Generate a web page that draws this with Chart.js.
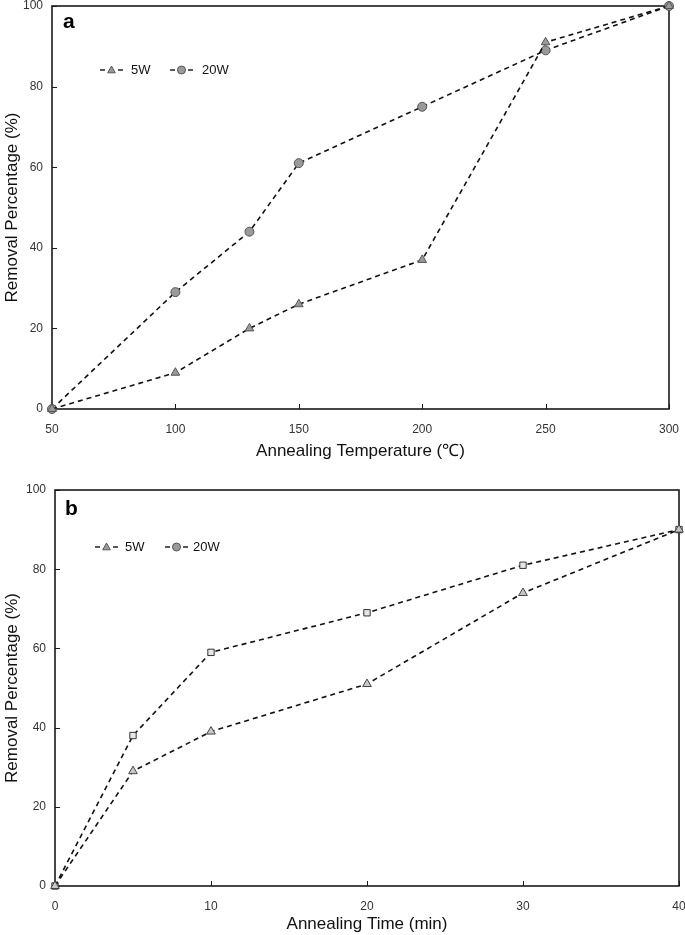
<!DOCTYPE html>
<html>
<head>
<meta charset="utf-8">
<script src="https://cdn.jsdelivr.net/npm/chart.js@4.4.1/dist/chart.umd.min.js"></script>
<style>
html,body{margin:0;padding:0;background:#fff;}
.wrap{position:absolute;left:0;width:685px;height:465px;}
#wa{top:0;}
#wb{top:470px;}
</style>
</head>
<body>
<div class="wrap" id="wa"><canvas id="ca" width="685" height="465"></canvas></div>
<div class="wrap" id="wb"><canvas id="cb" width="685" height="465"></canvas></div>
<script>
// ---- Data: panel a (annealing temperature) ----
const tempX = [50, 100, 130, 150, 200, 250, 300];
const tempY5W = [0, 9, 20, 26, 37, 91, 100];
const tempY20W = [0, 29, 44, 61, 75, 89, 100];
const tempTicks = [50, 100, 150, 200, 250, 300];

// ---- Data: panel b (annealing time) ----
const timeX = [0, 5, 10, 20, 30, 40];
const timeY5W = [0, 29, 39, 51, 74, 90];
const timeY20W = [0, 38, 59, 69, 81, 90];
const timeTicks = [0, 10, 20, 30, 40];

const yTicks = [0, 20, 40, 60, 80, 100];
const seriesLabels = ['5W', '20W'];

function pts(xs, ys) { return xs.map((x, i) => ({x: x, y: ys[i]})); }

function drawMarker(ctx, style, x, y, r, fill, stroke) {
  ctx.save();
  ctx.fillStyle = fill; ctx.strokeStyle = stroke; ctx.lineWidth = 1; ctx.setLineDash([]);
  ctx.beginPath();
  if (style === 'triangle') {
    ctx.moveTo(x, y - r); ctx.lineTo(x + r * 0.95, y + r * 0.7); ctx.lineTo(x - r * 0.95, y + r * 0.7); ctx.closePath();
  } else if (style === 'rect') {
    ctx.rect(x - r * 0.8, y - r * 0.8, r * 1.6, r * 1.6);
  } else {
    ctx.arc(x, y, r, 0, Math.PI * 2);
  }
  ctx.fill(); ctx.stroke();
  ctx.restore();
}

function zeroPad(s) { s.paddingLeft = 0; s.paddingRight = 0; s.paddingTop = 0; s.paddingBottom = 0; }

function makeChart(id, o) {
  const framePlugin = {
    id: 'frame' + id,
    beforeDatasetsDraw(chart) {
      const ctx = chart.ctx, a = chart.chartArea;
      const xs = chart.scales.x, ys = chart.scales.y;
      ctx.save();
      ctx.strokeStyle = '#1a1a1a'; ctx.lineWidth = 1;
      xs.ticks.forEach(t => {
        const px = Math.round(xs.getPixelForValue(t.value)) + 0.5;
        ctx.beginPath(); ctx.moveTo(px, a.bottom); ctx.lineTo(px, a.bottom - 5); ctx.stroke();
      });
      ys.ticks.forEach(t => {
        const py = Math.round(ys.getPixelForValue(t.value)) + 0.5;
        ctx.beginPath(); ctx.moveTo(a.left, py); ctx.lineTo(a.left + 5, py); ctx.stroke();
      });
      ctx.lineWidth = 1.6;
      ctx.strokeRect(a.left, a.top, a.right - a.left, a.bottom - a.top);
      ctx.restore();
    },
    afterDraw(chart) {
      const ctx = chart.ctx;
      ctx.save();
      ctx.fillStyle = '#000';
      ctx.font = 'bold 21px "Liberation Sans", Arial, sans-serif';
      ctx.textBaseline = 'alphabetic';
      ctx.fillText(o.letter, o.letterX, o.letterY);
      // legend
      ctx.font = '13px "Liberation Sans", Arial, sans-serif';
      ctx.textBaseline = 'middle';
      o.legend.forEach((it, i) => {
        const x = it.x, y = o.legendY;
        ctx.strokeStyle = '#222'; ctx.lineWidth = 1.5; ctx.setLineDash([]);
        ctx.beginPath(); ctx.moveTo(x, y); ctx.lineTo(x + 5, y); ctx.stroke();
        ctx.beginPath(); ctx.moveTo(x + 18, y); ctx.lineTo(x + 23, y); ctx.stroke();
        drawMarker(ctx, it.style, x + 11.5, y, 4, '#9a9a9a', '#555');
        ctx.fillStyle = '#111';
        ctx.fillText(seriesLabels[i], x + it.textOff, y);
      });
      ctx.restore();
    }
  };

  const ds = (label, data, style, fill, stroke, r) => ({
    label: label, data: data, showLine: true, fill: false,
    borderColor: '#111', borderWidth: 1.6, borderDash: [5, 4],
    pointStyle: style, pointRadius: r, pointHoverRadius: r,
    pointBackgroundColor: fill, pointBorderColor: stroke, pointBorderWidth: 1,
    tension: 0, clip: false
  });

  return new Chart(document.getElementById(id), {
    type: 'scatter',
    data: {
      datasets: [
        ds(seriesLabels[0], o.d1, 'triangle', o.fill1, o.stroke1, o.r1),
        ds(seriesLabels[1], o.d2, o.style2, o.fill2, o.stroke2, o.r2)
      ]
    },
    options: {
      responsive: false, animation: false, events: [],
      layout: { autoPadding: false, padding: { left: 0, right: o.padR, top: o.padT, bottom: 0 } },
      plugins: { legend: { display: false }, tooltip: { enabled: false } },
      scales: {
        x: {
          type: 'linear', min: o.xTicks[0], max: o.xTicks[o.xTicks.length - 1],
          afterBuildTicks(s) { s.ticks = o.xTicks.map(v => ({ value: v })); },
          afterFit(s) { s.height = o.xH; zeroPad(s); },
          grid: { display: false, drawTicks: false },
          border: { display: false },
          ticks: { padding: o.xTickPad, color: '#333', font: { family: '"Liberation Sans", Arial, sans-serif', size: 12 } },
          title: { display: true, text: o.xTitle, color: '#111', padding: { top: 0, bottom: o.xTitlePadB }, font: { family: '"Liberation Sans", Arial, sans-serif', size: 17 } }
        },
        y: {
          type: 'linear', min: 0, max: 100,
          afterBuildTicks(s) { s.ticks = yTicks.map(v => ({ value: v })); },
          afterFit(s) { s.width = o.yW; zeroPad(s); },
          grid: { display: false, drawTicks: false },
          border: { display: false },
          ticks: { padding: 9, color: '#333', font: { family: '"Liberation Sans", Arial, sans-serif', size: 12 } },
          title: { display: true, text: 'Removal Percentage (%)', color: '#111', padding: { top: 2, bottom: 0 }, font: { family: '"Liberation Sans", Arial, sans-serif', size: 17 } }
        }
      }
    },
    plugins: [framePlugin]
  });
}

makeChart('ca', {
  d1: pts(tempX, tempY5W), d2: pts(tempX, tempY20W),
  style2: 'circle', fill1: '#999', stroke1: '#555', fill2: '#9a9a9a', stroke2: '#555', r1: 5, r2: 4.5,
  xTicks: tempTicks, xTitle: 'Annealing Temperature (\u2103)',
  padR: 16, padT: 6, yW: 52, xH: 56, xTickPad: 13, xTitlePadB: 3,
  letter: 'a', letterX: 63, letterY: 28, legendY: 70,
  legend: [{ x: 100, style: 'triangle', textOff: 31 }, { x: 170, style: 'circle', textOff: 32 }]
});

makeChart('cb', {
  d1: pts(timeX, timeY5W), d2: pts(timeX, timeY20W),
  style2: 'rect', fill1: '#c8c8c8', stroke1: '#444', fill2: '#e6e6e6', stroke2: '#333', r1: 5, r2: 4.5,
  xTicks: timeTicks, xTitle: 'Annealing Time (min)',
  padR: 6, padT: 20, yW: 55, xH: 49, xTickPad: 13, xTitlePadB: 0,
  letter: 'b', letterX: 65, letterY: 45, legendY: 77,
  legend: [{ x: 95, style: 'triangle', textOff: 30 }, { x: 165, style: 'circle', textOff: 28 }]
});
</script>
</body>
</html>
